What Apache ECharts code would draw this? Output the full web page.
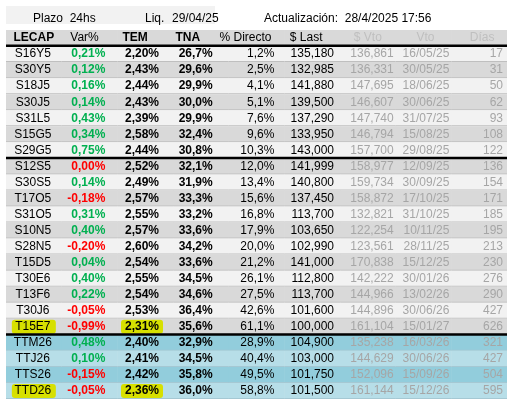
<!DOCTYPE html>
<html><head><meta charset="utf-8">
<script src="https://cdn.jsdelivr.net/npm/echarts@6/dist/echarts.min.js"></script>
<style>html,body{margin:0;padding:0;background:#fff}#c{width:507px;height:406px}</style>
</head><body><div id="c"></div>
<script>
const headers = ['LECAP','Var%','TEM','TNA','% Directo','$ Last','$ Vto','Vto','Días'];
const names = ['S16Y5','S30Y5','S18J5','S30J5','S31L5','S15G5','S29G5','S12S5','S30S5','T17O5','S31O5','S10N5','S28N5','T15D5','T30E6','T13F6','T30J6','T15E7','TTM26','TTJ26','TTS26','TTD26'];
const varPct = ['0,21%','0,12%','0,16%','0,14%','0,43%','0,34%','0,75%','0,00%','0,14%','-0,18%','0,31%','0,40%','-0,20%','0,04%','0,40%','0,22%','-0,05%','-0,99%','0,48%','0,10%','-0,15%','-0,05%'];
const tem = ['2,20%','2,43%','2,44%','2,43%','2,39%','2,58%','2,44%','2,52%','2,49%','2,57%','2,55%','2,57%','2,60%','2,54%','2,55%','2,54%','2,53%','2,31%','2,40%','2,41%','2,42%','2,36%'];
const tna = ['26,7%','29,6%','29,9%','30,0%','29,9%','32,4%','30,8%','32,1%','31,9%','33,3%','33,2%','33,6%','34,2%','33,6%','34,5%','34,6%','36,4%','35,6%','32,9%','34,5%','35,8%','36,0%'];
const directo = ['1,2%','2,5%','4,1%','5,1%','7,6%','9,6%','10,3%','12,0%','13,4%','15,6%','16,8%','17,9%','20,0%','21,2%','26,1%','27,5%','42,6%','61,1%','28,9%','40,4%','49,5%','58,8%'];
const last = ['135,180','132,985','141,880','139,500','137,290','133,950','143,000','141,999','140,800','137,450','113,700','103,650','102,990','141,000','112,800','113,700','101,600','100,000','104,900','103,000','101,750','101,500'];
const vtoPrice = ['136,861','136,331','147,695','146,607','147,740','146,794','157,700','158,977','159,734','158,872','132,821','122,254','123,561','170,838','142,222','144,966','144,896','161,104','135,238','144,629','152,096','161,144'];
const vtoDate = ['16/05/25','30/05/25','18/06/25','30/06/25','31/07/25','15/08/25','29/08/25','12/09/25','30/09/25','17/10/25','31/10/25','10/11/25','28/11/25','15/12/25','30/01/26','13/02/26','30/06/26','15/01/27','16/03/26','30/06/26','15/09/26','15/12/26'];
const dias = ['17','31','50','62','93','108','122','136','154','171','185','195','213','230','276','290','427','626','321','427','504','595'];
const groupBreaks = ['header','S29G5','T15E7'];
const highlighted = ['T15E7','TTD26'];

const cols = [names,varPct,tem,tna,directo,last,vtoPrice,vtoDate,dias];
const rowsCat = ['header'].concat(names);
const data = [];
rowsCat.forEach((r,ri)=>{ headers.forEach((h,ci)=>{ data.push([ci,ri]); }); });
const lineData = rowsCat.map((r,ri)=>[0,ri]).filter(d=>groupBreaks.indexOf(rowsCat[d[1]])>=0);

const rightPad = [0,12,14,16,10,6,2,2,4];
const hdrOff = [0,-5,-10,-13,-11,-6,0,2,3];
function rowBg(ri){
  if(ri===0) return '#d9d9d9';
  const i=ri-1;
  if(i>=18) return (i-18)%2===0?'#92cddc':'#b7dee8';
  if(i<7) return i%2===0?'#f2f2f2':'#d9d9d9';
  return (i-7)%2===0?'#d9d9d9':'#f2f2f2';
}
const FONT='"Liberation Sans", Arial, sans-serif';
const chart = echarts.init(document.getElementById('c'));
chart.setOption({
  animation:false,
  title:[
    {text:'Plazo  24hs',left:28,top:8,textStyle:{fontSize:12,fontWeight:'normal',fontFamily:FONT,color:'#000'}},
    {text:'Liq.',left:140,top:8,textStyle:{fontSize:12,fontWeight:'normal',fontFamily:FONT,color:'#000'}},
    {text:'29/04/25',left:167,top:8,textStyle:{fontSize:12,fontWeight:'normal',fontFamily:FONT,color:'#000'}},
    {text:'Actualización:  28/4/2025 17:56',left:259,top:8,textStyle:{fontSize:12,fontWeight:'normal',fontFamily:FONT,color:'#000'}}
  ],
  graphic:[{type:'rect',shape:{x:6,y:6,width:209,height:18},style:{fill:'#f2f2f2'},z:-1}],
  grid:{left:6,right:0,top:30,bottom:7},
  xAxis:{type:'category',data:headers,show:false,boundaryGap:true},
  yAxis:{type:'category',data:rowsCat,inverse:true,show:false},
  series:[{
    type:'custom',
    data:data,
    z:2,
    renderItem:function(params,api){
      const ci=api.value(0), ri=api.value(1);
      const c=api.coord([ci,ri]); const s=api.size([1,1]);
      const x0=c[0]-s[0]/2, y0=c[1]-s[1]/2, w=s[0], h=s[1];
      const ch=[{type:'rect',shape:{x:x0,y:y0,width:w+0.5,height:h},style:{fill:rowBg(ri)}}];
      if(ri>0) ch.push({type:'rect',shape:{x:x0,y:y0+h-1,width:w+0.5,height:1},style:{fill:ri<=18?'#bfbfbf':'#a5c8d3'}});
      const name = ri>0?names[ri-1]:null;
      if(ri===0){
        const gray = ci>=6;
        ch.push({type:'text',style:{text:headers[ci],x:c[0]+hdrOff[ci],y:c[1],align:'center',verticalAlign:'middle',
          font:((ci===0||ci===2||ci===3)?'bold ':'')+'12px '+FONT,fill:gray?'#bfbfbf':'#000'}});
      } else {
        const txt=cols[ci][ri-1];
        if((ci===0||ci===2) && highlighted.indexOf(name)>=0){
          const hx = ci===0? c[0]-22 : x0+w-rightPad[ci]-38;
          ch.push({type:'rect',shape:{x:hx,y:y0+1,width:ci===0?44:42,height:h-2,r:3},style:{fill:'#d7e000'}});
        }
        let fill='#000', weight='';
        if(ci===1){ fill = txt.charAt(0)==='-'||txt==='0,00%' ? '#ff0000':'#00b050'; weight='bold '; }
        if(ci===2||ci===3) weight='bold ';
        if(ci>=6) fill='#a6a6a6';
        const style={text:txt,y:c[1],verticalAlign:'middle',font:weight+'12px '+FONT,fill:fill};
        if(ci===0){style.x=c[0]-1;style.align='center';}
        else {style.x=x0+w-rightPad[ci];style.align='right';}
        ch.push({type:'text',style:style});
      }
      return {type:'group',children:ch};
    }
  },{
    type:'custom',
    data:lineData,
    z:5,
    renderItem:function(params,api){
      const c=api.coord([0,api.value(1)]); const s=api.size([1,1]);
      return {type:'rect',shape:{x:6,y:c[1]+s[1]/2-1.5,width:501,height:2.5},style:{fill:'#000'}};
    }
  }]
});
</script></body></html>
